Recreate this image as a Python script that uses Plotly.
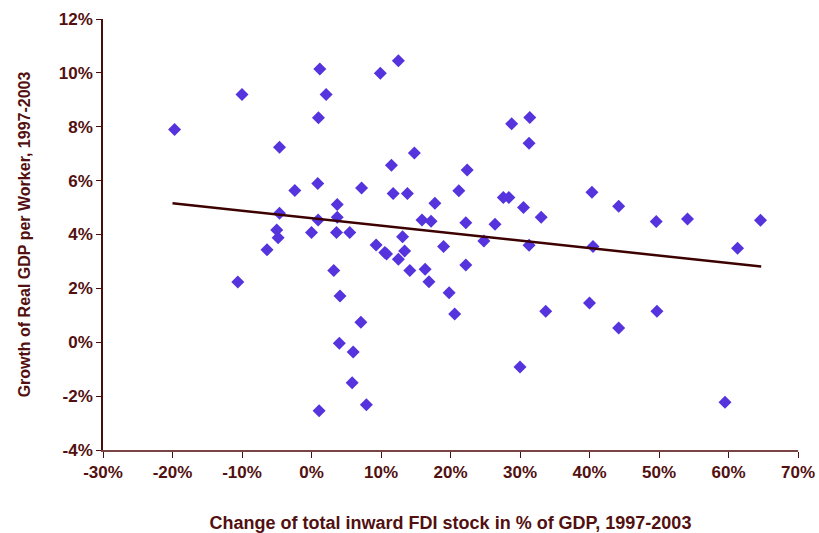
import plotly.graph_objects as go

# Change of total inward FDI stock in % of GDP (x) and growth of real GDP per worker in % (y)
fdi_change = [
    -19.7, -10.0, -4.6, 1.2, 2.1, 1.0, 0.9, -2.4, -4.6, 3.7,
    3.7, 0.95, -5.0, 0.0, 3.6, -4.8, -6.4, 3.2, -10.6, 4.1,
    4.0, 1.1, 9.9, 12.5, 28.8, 31.4, 31.3, 14.8, 11.5, 22.4,
    7.2, 11.75, 13.8, 21.2, 27.6, 28.4, 17.75, 30.5, 33.05, 15.9,
    17.2, 22.2, 26.4, 5.5, 13.1, 24.8, 9.3, 10.55, 10.8, 13.4,
    12.5, 19.0, 31.3, 16.35, 14.15, 22.2, 16.9, 19.8, 20.6, 33.7,
    7.1, 6.0, 30.0, 5.85, 7.9, 40.35, 44.2, 49.6, 54.1, 64.6,
    40.5, 61.3, 40.0, 44.2, 49.7, 59.5,
]
gdp_growth = [
    7.9, 9.2, 7.24, 10.14, 9.2, 8.33, 5.89, 5.63, 4.79, 5.11,
    4.64, 4.54, 4.17, 4.07, 4.07, 3.88, 3.43, 2.66, 2.24, 1.72,
    -0.04, -2.54, 9.99, 10.45, 8.11, 8.34, 7.39, 7.03, 6.57, 6.39,
    5.73, 5.52, 5.52, 5.62, 5.37, 5.37, 5.16, 5.0, 4.64, 4.54,
    4.49, 4.44, 4.38, 4.07, 3.92, 3.76, 3.61, 3.33, 3.28, 3.39,
    3.08, 3.55, 3.6, 2.71, 2.66, 2.87, 2.25, 1.84, 1.05, 1.15,
    0.74, -0.36, -0.92, -1.50, -2.32, 5.57, 5.05, 4.48, 4.58, 4.53,
    3.55, 3.49, 1.46, 0.53, 1.15, -2.23,
]

# Linear trend line endpoints
trend_x = [-20.0, 64.7]
trend_y = [5.16, 2.81]

x_ticks = [-30, -20, -10, 0, 10, 20, 30, 40, 50, 60, 70]
y_ticks = [-4, -2, 0, 2, 4, 6, 8, 10, 12]

x_title = "Change of total inward FDI stock in % of GDP, 1997-2003"
y_title = "Growth of Real GDP per Worker, 1997-2003"

label_color = "#521010"
axis_color = "#4a0c0c"
font_family = "Liberation Sans, Arial, sans-serif"

fig = go.Figure()
fig.add_trace(go.Scatter(
    x=fdi_change, y=gdp_growth, mode="markers",
    marker=dict(symbol="diamond", size=10, color="#5533dd", line=dict(width=0)),
    showlegend=False, hoverinfo="x+y",
))
fig.add_trace(go.Scatter(
    x=trend_x, y=trend_y, mode="lines",
    line=dict(color="#3d0000", width=2.5),
    showlegend=False, hoverinfo="skip",
))

fig.update_layout(
    width=819, height=533,
    margin=dict(l=103, r=21, t=19, b=83),
    paper_bgcolor="white", plot_bgcolor="white",
    font=dict(family=font_family, size=17, color=label_color),
)
fig.update_xaxes(
    range=[-30, 70], tickvals=x_ticks,
    ticktext=[f"<b>{v}%</b>" for v in x_ticks],
    showgrid=False, zeroline=False,
    showline=True, linecolor="#7a4444", linewidth=2,
    ticks="outside", ticklen=6, tickcolor=axis_color, tickwidth=1,
    tickfont=dict(size=17, color=label_color),
    automargin=False,
    title=dict(text=f"<b>{x_title}</b>", standoff=40,
               font=dict(size=18, color=label_color)),
)
fig.update_yaxes(
    range=[-4, 12], tickvals=y_ticks,
    ticktext=[f"<b>{v}%</b>" for v in y_ticks],
    showgrid=False, zeroline=False,
    showline=True, linecolor=axis_color, linewidth=1.5,
    ticks="outside", ticklen=5, tickcolor=axis_color, tickwidth=1,
    tickfont=dict(size=17, color=label_color),
    automargin=False,
    title=dict(text=f"<b>{y_title}</b>", standoff=24,
               font=dict(size=16, color=label_color)),
)

fig.write_html(
    "out.html",
    config={"displayModeBar": False},
    post_script="document.body.style.margin='0';document.body.style.overflow='hidden';",
)
